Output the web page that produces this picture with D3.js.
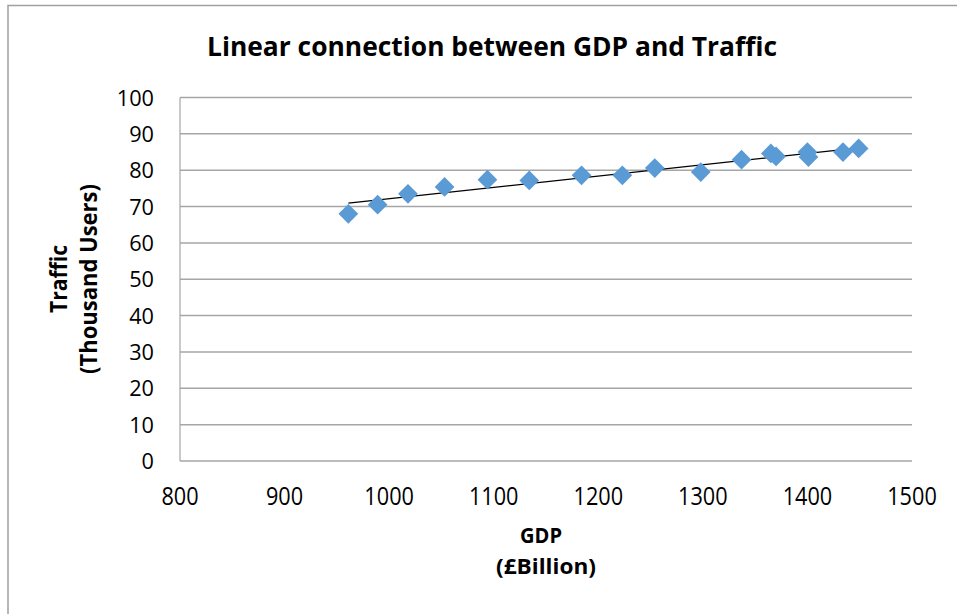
<!DOCTYPE html>
<html><head><meta charset="utf-8">
<script src="https://cdn.jsdelivr.net/npm/d3@7"></script>
<style>html,body{margin:0;padding:0;background:#fff;}svg{display:block;}</style>
</head><body>
<script>
const gdp = [961, 989, 1018, 1053, 1094, 1134, 1184, 1223, 1254, 1298, 1337, 1365, 1370, 1400, 1401, 1434, 1449];
const traffic = [68.0, 70.5, 73.5, 75.4, 77.4, 77.2, 78.6, 78.6, 80.6, 79.5, 82.9, 84.6, 83.8, 85.0, 83.6, 85.0, 86.0];
const xTicks = [800, 900, 1000, 1100, 1200, 1300, 1400, 1500];
const yTicks = [0, 10, 20, 30, 40, 50, 60, 70, 80, 90, 100];
const titleText = "Linear connection between GDP and Traffic";
const yTitle = ["Traffic", "(Thousand Users)"];
const xTitle = ["GDP", "(£Billion)"];

const W = 957, H = 614;
const svg = d3.select("body").append("svg").attr("width", W).attr("height", H);

// outer chart border
svg.append("path").attr("d", "M8,620 L8,5.5 L970,5.5")
  .attr("fill", "none").attr("stroke", "#a0a0a0").attr("stroke-width", 1.5);

const x = d3.scaleLinear().domain([800, 1500]).range([180, 912]);
const y = d3.scaleLinear().domain([0, 100]).range([461, 97.5]);

const font = "'Open Sans', 'Noto Sans', sans-serif";

// gridlines
svg.append("g").selectAll("line").data(yTicks.filter(d => d > 0)).join("line")
  .attr("x1", 180).attr("x2", 912)
  .attr("y1", d => y(d)).attr("y2", d => y(d))
  .attr("stroke", "#a6a6a6").attr("stroke-width", 1.5);

// axes lines
svg.append("line").attr("x1", 180).attr("x2", 180).attr("y1", y(100)).attr("y2", y(0))
  .attr("stroke", "#a6a6a6").attr("stroke-width", 1.2);
svg.append("line").attr("x1", 180).attr("x2", 912).attr("y1", y(0)).attr("y2", y(0))
  .attr("stroke", "#a6a6a6").attr("stroke-width", 1.5);

// y tick labels
svg.append("g").selectAll("text").data(yTicks).join("text")
  .attr("x", 154).attr("y", d => y(d) + 8)
  .attr("text-anchor", "end")
  .attr("font-family", font).attr("font-size", 22).attr("fill", "#000")
  .attr("textLength", d => String(d).length * 12.4).attr("lengthAdjust", "spacingAndGlyphs")
  .text(d => d);

// x tick labels
svg.append("g").selectAll("text").data(xTicks).join("text")
  .attr("x", d => x(d)).attr("y", 505)
  .attr("text-anchor", "middle")
  .attr("font-family", font).attr("font-size", 25).attr("fill", "#000")
  .attr("textLength", d => String(d).length * 12.4).attr("lengthAdjust", "spacingAndGlyphs")
  .text(d => d);

// trend line (least squares)
const n = gdp.length;
const mx = d3.mean(gdp), my = d3.mean(traffic);
let sxy = 0, sxx = 0;
for (let i = 0; i < n; i++) { sxy += (gdp[i] - mx) * (traffic[i] - my); sxx += (gdp[i] - mx) ** 2; }
const slope = sxy / sxx, icpt = my - slope * mx;
const x0 = d3.min(gdp), x1 = d3.max(gdp);
svg.append("line")
  .attr("x1", x(x0)).attr("y1", y(icpt + slope * x0))
  .attr("x2", x(x1)).attr("y2", y(icpt + slope * x1))
  .attr("stroke", "#000").attr("stroke-width", 1.3);

// points
const sym = d3.symbol().type(d3.symbolSquare).size(195);
svg.append("g").selectAll("path").data(gdp.map((g, i) => [g, traffic[i]])).join("path")
  .attr("d", sym)
  .attr("transform", d => `translate(${x(d[0])},${y(d[1])}) rotate(45)`)
  .attr("fill", "#5b9bd5");

// title
svg.append("text").attr("x", 492).attr("y", 56)
  .attr("text-anchor", "middle")
  .attr("font-family", font).attr("font-weight", "bold").attr("font-size", 27)
  .attr("textLength", 570).attr("lengthAdjust", "spacingAndGlyphs")
  .text(titleText);

// y title
const yt = svg.append("g").attr("transform", "translate(0,279) rotate(-90)");
yt.append("text").attr("x", 0).attr("y", 67).attr("text-anchor", "middle")
  .attr("font-family", font).attr("font-weight", "bold").attr("font-size", 24)
  .attr("textLength", 68).attr("lengthAdjust", "spacingAndGlyphs")
  .text(yTitle[0]);
yt.append("text").attr("x", 0).attr("y", 97).attr("text-anchor", "middle")
  .attr("font-family", font).attr("font-weight", "bold").attr("font-size", 24)
  .attr("textLength", 190).attr("lengthAdjust", "spacingAndGlyphs")
  .text(yTitle[1]);

// x title
svg.append("text").attr("x", 541).attr("y", 543).attr("text-anchor", "middle")
  .attr("font-family", font).attr("font-weight", "bold").attr("font-size", 21)
  .attr("textLength", 42).attr("lengthAdjust", "spacingAndGlyphs")
  .text(xTitle[0]);
svg.append("text").attr("x", 546).attr("y", 574).attr("text-anchor", "middle")
  .attr("font-family", font).attr("font-weight", "bold").attr("font-size", 21)
  .attr("textLength", 100).attr("lengthAdjust", "spacingAndGlyphs")
  .text(xTitle[1]);
</script>
</body></html>
